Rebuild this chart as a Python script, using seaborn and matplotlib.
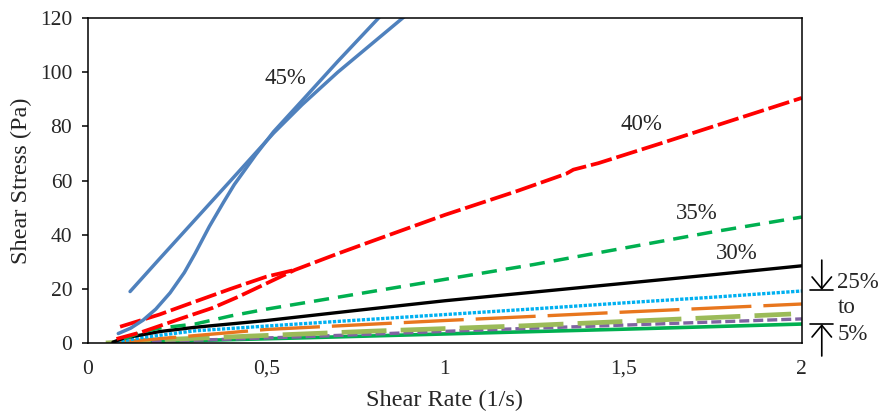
import numpy as np
import pandas as pd
import matplotlib
matplotlib.use("Agg")
import matplotlib.pyplot as plt
from matplotlib.ticker import FuncFormatter, MultipleLocator
import seaborn as sns

# shear rate (1/s) and shear stress (Pa), one list per curve

# 45 % - two branches (up and down sweep)
x45a = [0.118, 0.2, 0.3, 0.4, 0.52, 0.6, 0.7, 0.8, 0.9]
y45a = [19, 31, 45.5, 60, 77.5, 88, 100, 111, 122]
x45b = [0.085, 0.12, 0.155, 0.19, 0.23, 0.27, 0.3, 0.34, 0.38, 0.41, 0.47, 0.52,
        0.6, 0.7, 0.8, 0.85]
y45b = [3.5, 5.5, 8.5, 12.5, 18.5, 26, 33, 43, 52, 58.5, 69.5, 78, 89.5, 104, 118, 125]

# 40 %
x40a = [0.09, 0.2, 0.29, 0.4, 0.5, 0.58]
y40a = [6, 10.5, 14.8, 20, 24.5, 27]
x40b = [0.08, 0.15, 0.26, 0.35, 0.42, 0.5, 0.58, 0.7, 0.8, 1.0, 1.2, 1.34, 1.36,
        1.43, 1.6, 1.8, 2.0]
y40b = [1.5, 4, 9, 13, 17, 22, 27, 33, 37.8, 47.3, 56, 62.5, 64, 66.4, 73.5, 82, 90.5]

# 35 %
x35 = [0.1, 0.15, 0.2, 0.3, 0.4, 0.5, 0.75, 1.0, 1.25, 1.5, 1.75, 2.0]
y35 = [1.5, 4, 5.5, 7, 10, 12.5, 18, 23.5, 29, 35, 41, 46.5]

# 30 %
x30 = [0.07, 0.1, 0.2, 0.3, 0.5, 0.75, 1.0, 1.25, 1.5, 1.75, 2.0]
y30 = [0.3, 1.8, 4.2, 5.8, 8.3, 12, 15.6, 18.8, 22, 25.2, 28.5]

# 25 %
x25 = [0.08, 0.15, 0.3, 0.54, 0.75, 1.0, 1.25, 1.5, 1.75, 2.0]
y25 = [0.3, 2, 4.5, 6.6, 8.4, 10.5, 12.6, 14.8, 16.9, 19.2]

# 20 %
x20 = [0.08, 0.2, 0.5, 1.0, 1.5, 2.0]
y20 = [0.2, 1.6, 5.0, 8.3, 11.4, 14.4]

# 15 %
x15 = [0.05, 0.2, 0.5, 0.8, 1.21, 1.6, 1.97]
y15 = [0, 1.2, 2.8, 4.4, 6.3, 8.5, 10.7]

# 10 %
x10 = [0.1, 0.3, 0.6, 1.1, 1.5, 2.0]
y10 = [0, 1, 2.3, 4.8, 6.6, 8.9]

# 5 %
x5 = [0.07, 0.3, 0.6, 1.1, 1.5, 2.0]
y5 = [0, 0.9, 1.9, 3.7, 5.1, 7.0]

curve_labels = ["45%", "40%", "35%", "30%"]
label_x = [0.552, 1.552, 1.706, 1.818]
label_y = [97.5, 80.5, 48, 33.2]

sns.set_style("white")
plt.rcParams["font.family"] = ["Liberation Serif", "DejaVu Serif"]

fig = plt.figure(figsize=(8.84, 4.15), dpi=100)
ax = fig.add_axes([0.0995, 0.1735, 0.8075, 0.7831])

# (x, y, color, linewidth, linestyle), drawn back to front
series = [
    (x5, y5, "#00B050", 2.6, "-"),
    (x10, y10, "#8064A2", 2.4, (0, (3.0, 1.2))),
    (x15, y15, "#9BBB59", 3.4, (0, (9.5, 3.0))),
    (x20, y20, "#E8761E", 2.4, (0, (18, 3.6))),
    (x25, y25, "#00B0F0", 2.4, (0, (1, 0.45))),
    (x30, y30, "black", 2.4, "-"),
    (x35, y35, "#00B050", 2.5, (0, (4.4, 2.6))),
    (x40a, y40a, "#FF0000", 2.7, (0, (5.8, 1.3))),
    (x40b, y40b, "#FF0000", 2.7, (0, (5.8, 1.3))),
    (x45a, y45a, "#4F81BD", 2.5, "-"),
    (x45b, y45b, "#4F81BD", 2.5, "-"),
]

for xs, ys, col, lw, ls in series:
    sns.lineplot(x=xs, y=ys, ax=ax, color=col, linewidth=lw, linestyle=ls,
                 sort=False, estimator=None)

ax.set_xlim(0, 2)
ax.set_ylim(0, 120)
ax.xaxis.set_major_locator(MultipleLocator(0.5))
ax.yaxis.set_major_locator(MultipleLocator(20))
ax.xaxis.set_major_formatter(FuncFormatter(lambda v, _: f"{v:g}".replace(".", ",")))

for s in ax.spines.values():
    s.set_color("black")
    s.set_linewidth(1.1)

ax.tick_params(axis="y", direction="out", length=4.3, width=1.1, color="black",
               pad=7, labelsize=15.5, left=True)
ax.tick_params(axis="x", length=0, pad=12, labelsize=15.5)

ax.set_xlabel("Shear Rate (1/s)", fontsize=17.5, labelpad=8)
ax.set_ylabel("Shear Stress (Pa)", fontsize=17.5, labelpad=6)

for t, lx, ly in zip(curve_labels, label_x, label_y):
    ax.text(lx, ly, t, fontsize=16.5, ha="center", va="center")

# bracket on the right: 25% to 5%
ax.annotate("", xy=(2.056, 19.6), xytext=(2.056, 30.6), annotation_clip=False,
            arrowprops=dict(arrowstyle="->,head_length=0.6,head_width=0.5",
                            lw=1.2, color="black", mutation_scale=14,
                            shrinkA=0, shrinkB=0))
ax.annotate("", xy=(2.056, 7.0), xytext=(2.056, -4.8), annotation_clip=False,
            arrowprops=dict(arrowstyle="->,head_length=0.6,head_width=0.5",
                            lw=1.2, color="black", mutation_scale=14,
                            shrinkA=0, shrinkB=0))
ax.plot([2.022, 2.088], [19.6, 19.6], color="black", lw=1.2, clip_on=False)
ax.plot([2.022, 2.088], [7.0, 7.0], color="black", lw=1.2, clip_on=False)
ax.text(2.10, 22.2, "25%", fontsize=16.5, ha="left", va="center")
ax.text(2.10, 13.0, "to", fontsize=16.5, ha="left", va="center")
ax.text(2.10, 3.0, "5%", fontsize=16.5, ha="left", va="center")

fig.savefig("out.png", dpi=100)
